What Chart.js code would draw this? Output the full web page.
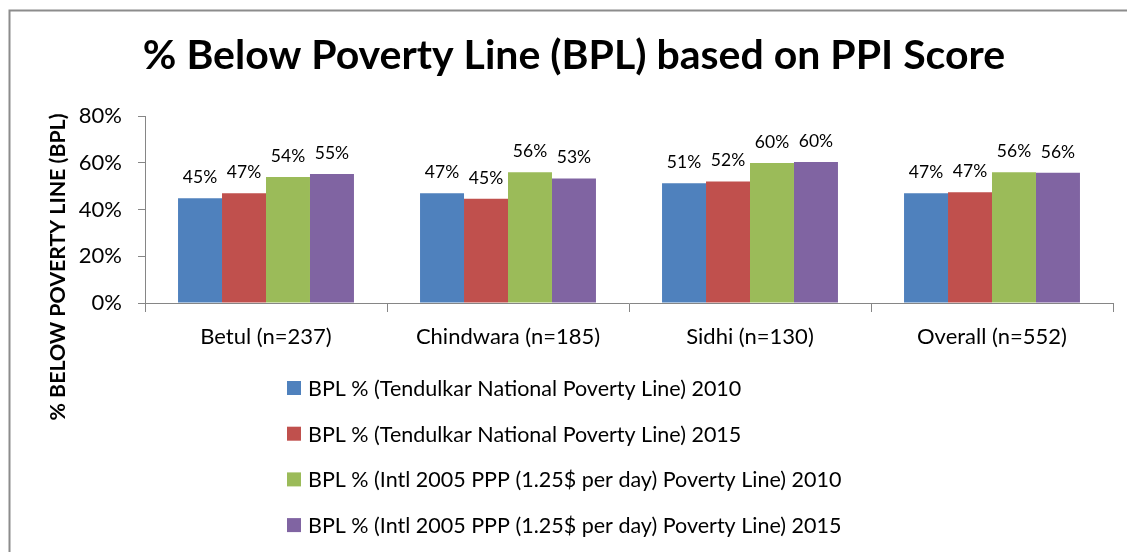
<!DOCTYPE html>
<html>
<head>
<meta charset="utf-8">
<script src="https://cdn.jsdelivr.net/npm/chart.js@4/dist/chart.umd.min.js"></script>
<style>
  html, body { margin: 0; padding: 0; background: #ffffff; }
  #wrap { width: 1127px; height: 552px; position: relative; }
</style>
</head>
<body>
<div id="wrap"><canvas id="c" width="1127" height="552"></canvas></div>
<script>
const chartTitle = "% Below Poverty Line (BPL) based on PPI Score";
const yAxisTitle = "% BELOW POVERTY LINE (BPL)";
const categories = ["Betul (n=237)", "Chindwara (n=185)", "Sidhi (n=130)", "Overall (n=552)"];
const seriesNames = [
  "BPL % (Tendulkar National Poverty Line) 2010",
  "BPL % (Tendulkar National Poverty Line) 2015",
  "BPL % (Intl 2005 PPP (1.25$ per day) Poverty Line) 2010",
  "BPL % (Intl 2005 PPP (1.25$ per day) Poverty Line) 2015"
];
const tendulkar2010 = [44.8, 46.9, 51.2, 46.9];
const tendulkar2015 = [46.9, 44.6, 52.0, 47.4];
const intl2010 = [53.9, 55.9, 59.9, 55.9];
const intl2015 = [55.2, 53.3, 60.3, 55.7];
const seriesColors = ["#4F81BD", "#C0504D", "#9BBB59", "#8064A2"];
const yTicks = [0, 20, 40, 60, 80];

const FONT = "Lato, 'Liberation Sans', sans-serif";
const axisGray = "#868686";

const frameAndText = {
  id: "frameAndText",
  beforeDraw(chart) {
    const ctx = chart.ctx;
    ctx.save();
    ctx.fillStyle = "#ffffff";
    ctx.fillRect(0, 0, chart.width, chart.height);
    ctx.strokeStyle = "#8c8c8c";
    ctx.lineWidth = 2;
    ctx.strokeRect(9.5, 10.5, 1300, 700);
    ctx.restore();
  },
  afterDraw(chart) {
    const ctx = chart.ctx;
    ctx.save();
    // title
    ctx.fillStyle = "#000000";
    ctx.font = "bold 41px " + FONT;
    ctx.textAlign = "center";
    ctx.textBaseline = "alphabetic";
    ctx.fillText(chartTitle, 574, 69);
    // y axis title
    ctx.save();
    ctx.translate(58, 267);
    ctx.rotate(-Math.PI / 2);
    ctx.font = "bold 21.3px " + FONT;
    ctx.textAlign = "center";
    ctx.textBaseline = "middle";
    ctx.fillText(yAxisTitle, 0, 0);
    ctx.restore();
    // legend
    ctx.font = "21.5px " + FONT;
    ctx.textAlign = "left";
    ctx.textBaseline = "middle";
    chart.data.datasets.forEach((ds, i) => {
      const cy = 388 + i * 45.7;
      ctx.fillStyle = ds.backgroundColor;
      ctx.fillRect(287, cy - 7, 14, 14);
      ctx.fillStyle = "#000000";
      ctx.fillText(ds.label, 308, cy + 1);
    });
    ctx.restore();
  },
  afterDatasetsDraw(chart) {
    const ctx = chart.ctx;
    ctx.save();
    ctx.font = "17.5px " + FONT;
    ctx.fillStyle = "#000000";
    ctx.textAlign = "center";
    ctx.textBaseline = "alphabetic";
    chart.data.datasets.forEach((ds, i) => {
      const meta = chart.getDatasetMeta(i);
      meta.data.forEach((el, j) => {
        ctx.fillText(Math.round(ds.data[j]) + "%", el.x, el.y - 15);
      });
    });
    ctx.restore();
  }
};

const data = {
  labels: categories,
  datasets: [tendulkar2010, tendulkar2015, intl2010, intl2015].map((arr, i) => ({
    label: seriesNames[i],
    data: arr,
    backgroundColor: seriesColors[i],
    borderWidth: 0,
    categoryPercentage: 0.727,
    barPercentage: 1.0
  }))
};

new Chart(document.getElementById("c"), {
  type: "bar",
  data,
  options: {
    responsive: false,
    animation: false,
    devicePixelRatio: 1,
    layout: { padding: { top: 116, left: 0, right: 14, bottom: 189 } },
    plugins: {
      legend: { display: false },
      title: { display: false },
      tooltip: { enabled: false }
    },
    scales: {
      x: {
        grid: { offset: true, drawOnChartArea: false, drawTicks: true, tickLength: 9, color: axisGray },
        border: { color: axisGray, width: 1 },
        ticks: { color: "#000000", font: { family: FONT, size: 22 }, padding: 12 },
        afterFit(scale) { scale.height = 60; }
      },
      y: {
        min: 0,
        max: 80,
        afterBuildTicks(scale) { scale.ticks = yTicks.map(v => ({ value: v })); },
        grid: { drawOnChartArea: false, drawTicks: true, tickLength: 7, color: axisGray },
        border: { color: axisGray, width: 1 },
        ticks: { color: "#000000", font: { family: FONT, size: 22 }, padding: 16, callback: v => v + "%" },
        afterFit(scale) { scale.width = 145; }
      }
    }
  },
  plugins: [frameAndText]
});
</script>
</body>
</html>
